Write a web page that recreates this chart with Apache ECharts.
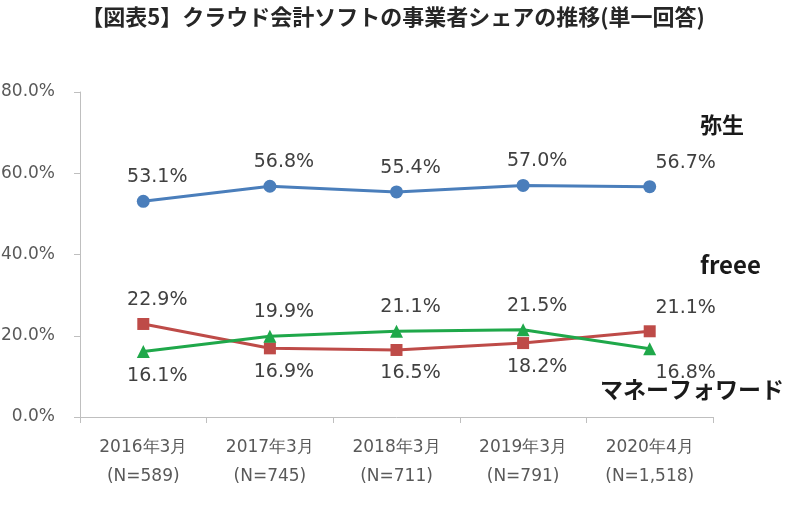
<!DOCTYPE html>
<html>
<head>
<meta charset="utf-8">
<script src="https://cdn.jsdelivr.net/npm/echarts@6/dist/echarts.min.js"></script>
<style>
  html, body { margin: 0; padding: 0; background: #fff; }
  #chart { width: 786px; height: 513px; }
</style>
</head>
<body>
<div id="chart"></div>
<script>
// データ
const periods = ['2016年3月', '2017年3月', '2018年3月', '2019年3月', '2020年4月'];
const sampleSizes = ['N=589', 'N=745', 'N=711', 'N=791', 'N=1,518'];
const yayoi = [53.1, 56.8, 55.4, 57.0, 56.7];
const freee = [22.9, 16.9, 16.5, 18.2, 21.1];
const moneyForward = [16.1, 19.9, 21.1, 21.5, 16.8];

const labelFont = 'DejaVu Sans, Verdana, sans-serif';
const jpFont = '"Noto Sans CJK JP", sans-serif';

// ラベル位置: 他系列より大きければ上、小さければ下
const buildData = (values, other) => values.map((v, i) => ({
  value: v,
  label: {
    position: (other && v < other[i]) ? 'bottom' : 'top',
    offset: [i === values.length - 1 ? 36 : 14, 0]
  }
}));

const labelStyle = {
  show: true,
  distance: 8,
  color: '#404040',
  fontSize: 19,
  fontFamily: labelFont,
  formatter: p => p.value.toFixed(1) + '%'
};

const chart = echarts.init(document.getElementById('chart'));
const option = {
  backgroundColor: '#fff',
  animation: false,
  title: {
    text: '【図表5】クラウド会計ソフトの事業者シェアの推移(単一回答)',
    left: 'center',
    top: 1,
    textStyle: { fontFamily: jpFont, fontSize: 22, fontWeight: 'bold', color: '#262626' }
  },
  grid: { left: 80, right: 73, top: 92, bottom: 96, outerBoundsMode: 'none' },
  xAxis: {
    type: 'category',
    data: periods,
    boundaryGap: true,
    axisLine: { lineStyle: { color: '#bfbfbf', width: 1 } },
    axisTick: { show: true, length: 6, lineStyle: { color: '#bfbfbf' } },
    axisLabel: {
      interval: 0,
      margin: 16,
      lineHeight: 29,
      fontSize: 17,
      fontFamily: labelFont,
      color: '#595959',
      formatter: (v, i) => v + '\n(' + sampleSizes[i] + ')'
    },
    splitLine: { show: false }
  },
  yAxis: {
    type: 'value',
    min: 0,
    max: 80,
    interval: 20,
    axisLine: { show: true, lineStyle: { color: '#bfbfbf', width: 1 } },
    axisTick: { show: true, length: 6, lineStyle: { color: '#bfbfbf' } },
    axisLabel: {
      margin: 25,
      fontSize: 17,
      fontFamily: labelFont,
      color: '#595959',
      formatter: v => v.toFixed(1) + '%'
    },
    splitLine: { show: false }
  },
  series: [
    {
      name: '弥生',
      type: 'line',
      data: buildData(yayoi, null),
      symbol: 'circle',
      symbolSize: 13,
      lineStyle: { color: '#4a7ebb', width: 3 },
      itemStyle: { color: '#4a7ebb' },
      label: labelStyle
    },
    {
      name: 'freee',
      type: 'line',
      data: buildData(freee, moneyForward),
      symbol: 'rect',
      symbolSize: 12,
      lineStyle: { color: '#be4b48', width: 3 },
      itemStyle: { color: '#be4b48' },
      label: labelStyle
    },
    {
      name: 'マネーフォワード',
      type: 'line',
      data: buildData(moneyForward, freee),
      symbol: 'triangle',
      symbolSize: 13,
      lineStyle: { color: '#1fa84a', width: 3 },
      itemStyle: { color: '#1fa84a' },
      label: labelStyle
    }
  ],
  graphic: [
    { type: 'text', left: 700, top: 114, style: { text: '弥生', font: 'bold 22px ' + jpFont, fill: '#1a1a1a' } },
    { type: 'text', left: 700, top: 253, style: { text: 'freee', font: 'bold 24px ' + jpFont, fill: '#1a1a1a' } },
    { type: 'text', left: 600, top: 378, style: { text: 'マネーフォワード', font: 'bold 23px ' + jpFont, fill: '#1a1a1a' } }
  ]
};
chart.setOption(option);
</script>
</body>
</html>
